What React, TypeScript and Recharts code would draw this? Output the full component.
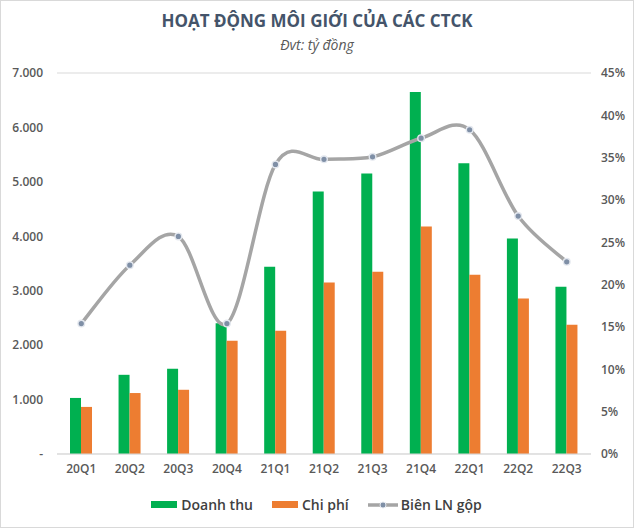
import { ComposedChart, Bar, Line, XAxis, YAxis, CartesianGrid } from "recharts";

const quarters = ["20Q1", "20Q2", "20Q3", "20Q4", "21Q1", "21Q2", "21Q3", "21Q4", "22Q1", "22Q2", "22Q3"];
const doanhThu = [1030, 1455, 1565, 2400, 3440, 4825, 5155, 6650, 5340, 3960, 3075];
const chiPhi = [865, 1120, 1180, 2080, 2265, 3150, 3350, 4180, 3295, 2855, 2375];
const bienLN = [15.4, 22.3, 25.7, 15.4, 34.2, 34.8, 35.1, 37.3, 38.3, 28.1, 22.7];
const leftTicks = [0, 1000, 2000, 3000, 4000, 5000, 6000, 7000];
const rightTicks = [0, 5, 10, 15, 20, 25, 30, 35, 40, 45];

const data = quarters.map((q, i) => ({
  q,
  doanhThu: doanhThu[i],
  chiPhi: chiPhi[i],
  bien: bienLN[i],
}));

const FONT = "'Open Sans', 'Noto Sans', sans-serif";
const GREEN = "#00B050";
const ORANGE = "#ED7D31";
const GREY = "#A5A5A5";

// Excel-style smoothed line (Catmull-Rom through the points)
function excelSmooth(context: any) {
  let pts: [number, number][] = [];
  return {
    areaStart() {},
    areaEnd() {},
    lineStart() {
      pts = [];
    },
    point(x: number, y: number) {
      pts.push([+x, +y]);
    },
    lineEnd() {
      const n = pts.length;
      if (!n) return;
      context.moveTo(pts[0][0], pts[0][1]);
      for (let i = 0; i < n - 1; i++) {
        const p0 = pts[i > 0 ? i - 1 : i];
        const p1 = pts[i];
        const p2 = pts[i + 1];
        const p3 = pts[i + 2 < n ? i + 2 : i + 1];
        context.bezierCurveTo(
          p1[0] + (p2[0] - p0[0]) / 6,
          p1[1] + (p2[1] - p0[1]) / 6,
          p2[0] - (p3[0] - p1[0]) / 6,
          p2[1] - (p3[1] - p1[1]) / 6,
          p2[0],
          p2[1]
        );
      }
    },
  };
}

function fmtLeft(v: number): string {
  if (v === 0) return "-";
  return v.toLocaleString("de-DE");
}

function LegendItem({ color, label, line }: { color: string; label: string; line?: boolean }) {
  return (
    <div style={{ display: "flex", alignItems: "center", marginRight: 19 }}>
      {line ? (
        <svg width={30} height={10} style={{ marginRight: 3 }}>
          <line x1={0} y1={5} x2={30} y2={5} stroke={GREY} strokeWidth={3.5} />
          <circle cx={15} cy={5} r={3} fill="#7F8FA6" stroke="#E3E7EE" strokeWidth={1} />
        </svg>
      ) : (
        <div style={{ width: 26, height: 7, background: color, marginRight: 4 }} />
      )}
      <span>{label}</span>
    </div>
  );
}

export default function App() {
  const tickStyle = { fill: "#595959", fontFamily: FONT, fontSize: 12, fontWeight: 600 };
  return (
    <div
      style={{
        position: "absolute",
        left: 0,
        top: 0,
        width: 632,
        height: 526,
        border: "1px solid #d9d9d9",
        background: "#fff",
        fontFamily: FONT,
      }}
    >
      <div
        style={{
          position: "absolute",
          top: 8,
          left: 0,
          width: "100%",
          textAlign: "center",
          fontSize: 17,
          fontWeight: 700,
          color: "#44546A",
        }}
      >
        HOẠT ĐỘNG MÔI GIỚI CỦA CÁC CTCK
      </div>
      <div
        style={{
          position: "absolute",
          top: 34,
          left: 0,
          width: "100%",
          textAlign: "center",
          fontSize: 14,
          fontStyle: "italic",
          color: "#595959",
        }}
      >
        Đvt: tỷ đồng
      </div>
      <ComposedChart
        width={632}
        height={526}
        data={data}
        margin={{ top: 72, right: 0, bottom: 42, left: 0 }}
        barGap={0}
        barSize={11}
      >
        <CartesianGrid vertical={false} stroke="#d9d9d9" />
        <XAxis
          dataKey="q"
          axisLine={{ stroke: "#d9d9d9" }}
          tickLine={false}
          tick={tickStyle}
          tickMargin={4}
          height={31}
        />
        <YAxis
          yAxisId="left"
          domain={[0, 7000]}
          ticks={leftTicks}
          tickFormatter={fmtLeft}
          axisLine={false}
          tickLine={false}
          tick={tickStyle}
          width={56}
          tickMargin={8}
          interval={0}
        />
        <YAxis
          yAxisId="right"
          orientation="right"
          domain={[0, 45]}
          ticks={rightTicks}
          tickFormatter={(v: number) => `${v}%`}
          axisLine={false}
          tickLine={false}
          tick={{ ...tickStyle, textAnchor: "start" }}
          width={42}
          tickMargin={4}
          interval={0}
        />
        <Bar yAxisId="left" dataKey="doanhThu" fill={GREEN} isAnimationActive={false} />
        <Bar yAxisId="left" dataKey="chiPhi" fill={ORANGE} isAnimationActive={false} />
        <Line
          yAxisId="right"
          dataKey="bien"
          type={excelSmooth as any}
          stroke={GREY}
          strokeWidth={3.5}
          dot={{ r: 3.3, fill: "#7F8FA6", stroke: "#E3E7EE", strokeWidth: 1.4 }}
          isAnimationActive={false}
        />
      </ComposedChart>
      <div
        style={{
          position: "absolute",
          top: 494,
          left: 0,
          width: "100%",
          display: "flex",
          justifyContent: "center",
          fontSize: 14,
          fontWeight: 600,
          color: "#404040",
          paddingLeft: 18,
          boxSizing: "border-box",
        }}
      >
        <LegendItem color={GREEN} label="Doanh thu" />
        <LegendItem color={ORANGE} label="Chi phí" />
        <LegendItem color={GREY} label="Biên LN gộp" line />
      </div>
    </div>
  );
}
